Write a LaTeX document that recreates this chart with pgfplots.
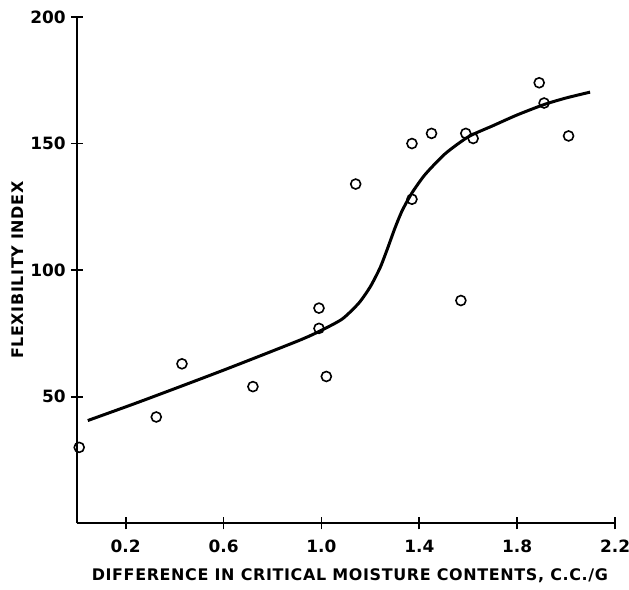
\documentclass[border=0pt]{standalone}
\usepackage{fontspec}
\usepackage{pgfplots}
\pgfplotsset{compat=1.18}
\newfontfamily\lblfont{DejaVu Sans}[LetterSpace=4]
\newfontfamily\tckfont{DejaVu Sans}
\begin{document}
\begin{tikzpicture}
\begin{axis}[
  scale only axis,
  width=270pt, height=254pt,
  xmin=0, xmax=2.2, ymin=0, ymax=200,
  axis lines=left,
  axis line style={-, line width=1pt},
  tick style={line width=0.9pt, black},
  major tick length=6pt,
  xtick={0.2,0.6,1.0,1.4,1.8,2.2},
  xticklabels={0.2,0.6,1.0,1.4,1.8,2.2},
  ytick={50,100,150,200},
  yticklabels={50,100,150,200},
  ticklabel style={font=\tckfont\bfseries\fontsize{8.5}{9}\selectfont},
  xticklabel style={anchor=center, yshift=-8.5pt},
  yticklabel style={anchor=east, xshift=1pt},
  xlabel={DIFFERENCE IN CRITICAL MOISTURE CONTENTS, C.C./G},
  ylabel={FLEXIBILITY INDEX},
  label style={font=\lblfont\bfseries\fontsize{8}{9}\selectfont},
  xlabel style={at={(rel axis cs:0.5,0)}, anchor=center, yshift=-26.5pt, xshift=2pt},
  ylabel style={at={(rel axis cs:0,0.5)}, anchor=center, yshift=29.5pt},
  clip=false,
]
\addplot[black, line width=1.5pt, smooth, tension=0.4] coordinates {
  (0.045,40.6) (0.268,48.4) (0.6,60.5) (0.908,72.2) (0.997,76.1) (1.085,80.7)
  (1.153,87.0) (1.20,93.5) (1.24,101.0) (1.27,108.5) (1.30,116.5) (1.33,123.5)
  (1.37,130.5) (1.424,137.8) (1.506,146.0) (1.601,152.7) (1.70,157.0)
  (1.80,161.3) (1.91,165.4) (2.0,168.0) (2.098,170.3)
};
\addplot[only marks, mark=o, mark size=2.5pt, mark options={line width=0.8pt, black}] coordinates {
  (0.01,30) (0.325,42) (0.43,63) (0.72,54) (0.99,85) (0.99,77) (1.02,58)
  (1.14,134) (1.37,150) (1.37,128) (1.45,154) (1.57,88) (1.59,154)
  (1.62,152) (1.89,174) (1.91,166) (2.01,153)
};
\end{axis}
\pgfresetboundingbox
\path (current axis.south west) ++(-38.5pt,-33.4pt) coordinate (bl);
\path (current axis.north east) ++(7pt,8.5pt) coordinate (tr);
\path[use as bounding box] (bl) rectangle (tr);
\end{tikzpicture}
\end{document}
